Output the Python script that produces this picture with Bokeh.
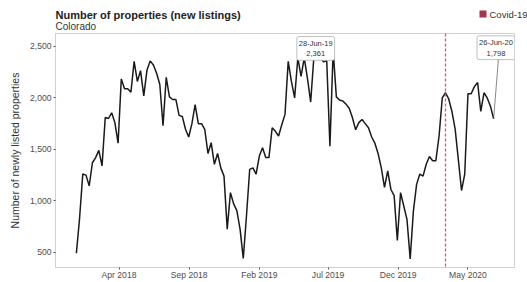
import pandas as pd
from datetime import datetime, timedelta
from bokeh.plotting import figure
from bokeh.layouts import column, row
from bokeh.models import (ColumnDataSource, Range1d, FixedTicker, DatetimeTickFormatter,
                          NumeralTickFormatter, Span, Label, BoxAnnotation)
from bokeh.embed import file_html
from bokeh.resources import INLINE

# ---- data (weekly new listings, Colorado) ----
start_week = "2017-12-29"
new_listings = [
    490, 830, 1260, 1250, 1145, 1370, 1420, 1490, 1340, 1810,
    1800, 1855, 1760, 1560, 2185, 2090, 2090, 2055, 2355, 2160,
    2265, 2020, 2270, 2360, 2320, 2240, 2130, 1730, 2200, 2010,
    1985, 1985, 1830, 1820, 1695, 1620, 1750, 1935, 1750, 1750,
    1695, 1460, 1565, 1355, 1460, 1320, 1240, 725, 1080, 970,
    905, 725, 440, 855, 1305, 1320, 1260, 1435, 1515, 1420,
    1420, 1710, 1675, 1630, 1740, 1840, 2355, 2160, 2000, 2390,
    2210, 2390, 2190, 1960, 2400, 2380, 2400, 2350, 2361, 1530,
    2460, 2010, 1980, 1970, 1940, 1900, 1810, 1690, 1760, 1790,
    1750, 1710, 1620, 1560, 1460, 1320, 1130, 1290, 1110, 1050,
    615, 1080, 950, 820, 436, 900, 1160, 1260, 1240, 1355,
    1430, 1390, 1390, 1630, 2000, 2050, 1990, 1870, 1700, 1400,
    1100, 1260, 2040, 2040, 2110, 2150, 1870, 2050, 2000, 1920,
    1798,
]
covid_date = datetime(2020, 3, 13)
x_tick_dates = [datetime(2018, 4, 1), datetime(2018, 9, 1), datetime(2019, 2, 1),
                datetime(2019, 7, 1), datetime(2019, 12, 1), datetime(2020, 5, 1)]
y_ticks = [500, 1000, 1500, 2000, 2500]
highlight_dates = ["2019-06-28", "2020-06-26"]

dates = list(pd.date_range(start_week, periods=len(new_listings), freq="7D"))
src = ColumnDataSource(dict(date=dates, value=new_listings))

span_days = (dates[-1] - dates[0]).days
x_start = dates[0] - timedelta(days=0.05 * span_days)
x_end = dates[-1] + timedelta(days=0.05 * span_days)

FONT = "Liberation Sans"
W, H = 527, 282
HEADER_H = 33
LEFT, RIGHT = 55, 13
COVID_COLOR = "#a3334f"

# ---- header: title, subtitle, legend (pixel coordinates) ----
hdr = figure(width=W, height=HEADER_H, x_range=Range1d(0, W), y_range=Range1d(HEADER_H, 0),
             output_backend="svg", toolbar_location=None, title=None,
             min_border=0, x_axis_type=None, y_axis_type=None)
hdr.outline_line_color = None
hdr.xgrid.visible = False
hdr.ygrid.visible = False
hdr.add_layout(Label(x=LEFT, y=14, text="Number of properties (new listings)", text_font=FONT,
                     text_font_size="11px", text_font_style="bold", text_color="#222222",
                     text_baseline="middle", text_align="left"))
hdr.add_layout(Label(x=LEFT, y=26, text="Colorado", text_font=FONT, text_font_size="10px",
                     text_color="#333333", text_baseline="middle", text_align="left"))
hdr.add_layout(BoxAnnotation(left=479, right=486, top=10, bottom=17, fill_color=COVID_COLOR,
                             fill_alpha=1, line_color=None))
hdr.add_layout(Label(x=489, y=14, text="Covid-19", text_font=FONT, text_font_size="9.5px",
                     text_color="#333333", text_baseline="middle", text_align="left"))

# ---- main plot ----
p = figure(width=W, height=H - HEADER_H, x_axis_type="datetime", title=None,
           x_range=Range1d(x_start, x_end), y_range=Range1d(352, 2626),
           output_backend="svg", toolbar_location=None,
           min_border_left=LEFT, min_border_right=RIGHT, min_border_top=0, min_border_bottom=12)
p.background_fill_color = "white"
p.border_fill_color = "white"
p.outline_line_color = "#d0d0d0"
p.outline_line_width = 1
p.xgrid.visible = False
p.ygrid.visible = False

p.line(x="date", y="value", source=src, line_color="#1a1a1a", line_width=1.5)

p.add_layout(Span(location=covid_date, dimension="height", line_color="#e0507a",
                  line_dash="3 2", line_width=1.3))

# axes
p.xaxis.ticker = FixedTicker(ticks=[pd.Timestamp(d).value / 1e6 for d in x_tick_dates])
fmt = "%b %Y"
p.xaxis.formatter = DatetimeTickFormatter(days=fmt, months=fmt, years=fmt)
p.yaxis.ticker = FixedTicker(ticks=y_ticks)
p.yaxis.formatter = NumeralTickFormatter(format="0,0")
for ax in (p.xaxis, p.yaxis):
    ax.axis_line_color = None
    ax.major_tick_line_color = "#555555"
    ax.major_tick_out = 2
    ax.major_tick_in = 0
    ax.minor_tick_line_color = None
    ax.major_label_text_font = FONT
    ax.major_label_text_font_size = "8.6px"
    ax.major_label_text_color = "#4d4d4d"
    ax.major_label_standoff = 0
p.yaxis.major_label_standoff = 2
p.yaxis.axis_label = "Number of newly listed properties"
p.yaxis.axis_label_text_font = FONT
p.yaxis.axis_label_text_font_size = "10.5px"
p.yaxis.axis_label_text_font_style = "normal"
p.yaxis.axis_label_text_color = "#333333"
p.yaxis.axis_label_standoff = 6

# highlighted point labels
hl = {pd.Timestamp(d): v for d, v in zip(dates, new_listings)}
lab_specs = [(pd.Timestamp(highlight_dates[0]), -24, 120), (pd.Timestamp(highlight_dates[1]), 5, 690)]
for d, dx, dy in lab_specs:
    v = hl[d]
    lx = d + timedelta(days=dx)
    ly = v + dy
    p.segment(x0=[d], y0=[v], x1=[lx + timedelta(days=6)], y1=[ly - 80],
              line_color="#555555", line_width=0.7)
    p.add_layout(Label(x=lx, y=ly, text=f"{d.strftime('%d-%b-%y')}\n{v:,}",
                       text_font=FONT, text_font_size="7.5px", text_color="#333333",
                       text_align="center", text_baseline="middle",
                       background_fill_color="white", border_line_color="#b0b0b0",
                       border_line_width=0.8, padding=2, border_radius=2))

layout = column(row(hdr), p, spacing=0)
open("out.html", "w").write(file_html(layout, INLINE))
